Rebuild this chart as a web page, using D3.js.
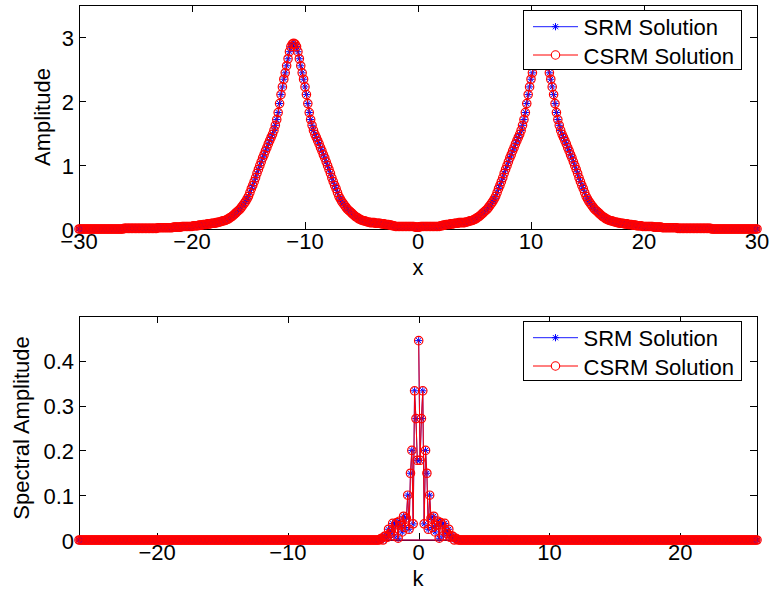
<!DOCTYPE html>
<html><head><meta charset="utf-8">
<script src="https://cdn.jsdelivr.net/npm/d3@7"></script>
<style>
body{margin:0;background:#fff}
svg{display:block}
text{font-family:"Liberation Sans",Arial,Helvetica,sans-serif;fill:#000}
</style>
</head><body>
<svg id="c" width="771" height="594"></svg>
<script>
// ---------------- data ----------------
const seriesNames = ["SRM Solution", "CSRM Solution"];
const xTicksTop = [-30, -20, -10, 0, 10, 20, 30];
const yTicksTop = [0, 1, 2, 3];
const kTicks = [-20, -10, 0, 10, 20];
const yTicksBottom = [0, 0.1, 0.2, 0.3, 0.4];
const yTickLabelsBottom = ["0", "0.1", "0.2", "0.3", "0.4"];
const xRange = [-30, 30];          // x grid spans this interval (uniform)
const kSpacing = 2 * Math.PI / 60; // spectral grid spacing

// amplitude |u(x)| on the uniform x grid from -30 to 30
const srmAmplitude = [
0,0,0,0,0,0,0,0,0,0,0,0,0,0,0,0,
0,0,0,0,0,0,0,0,0,0,0,0,0,0,0,0,
0.01,0.01,0.01,0.01,0.01,0.01,0.01,0.01,0.01,0.01,0.01,0.01,
0.01,0.01,0.01,0.01,0.01,0.01,0.01,0.01,0.01,0.01,0.01,0.01,
0.02,0.02,0.02,0.02,0.02,0.02,0.02,0.02,0.02,0.02,0.02,
0.03,0.03,0.03,0.03,0.03,0.03,
0.04,0.04,0.04,0.04,0.04,0.04,0.04,0.04,
0.05,0.05,0.05,0.05,
0.06,0.06,0.06,0.07,0.07,0.07,0.08,0.08,0.08,0.09,0.09,0.09,
0.10,0.10,0.11,0.11,0.12,0.13,0.13,
0.14,0.15,0.16,0.18,0.19,0.21,0.23,0.25,0.27,0.29,
0.31,0.34,0.37,0.40,0.43,0.47,0.51,0.57,0.63,0.68,
0.74,0.80,0.87,0.93,0.99,1.05,1.11,1.16,1.22,1.27,
1.33,1.38,1.43,1.48,1.54,1.62,1.71,1.82,1.96,2.10,
2.22,2.34,2.44,2.55,2.66,2.77,2.85,2.89,2.90,
2.89,2.85,2.77,2.66,2.55,2.44,2.34,2.22,2.10,1.96,
1.82,1.71,1.62,1.54,1.48,1.43,1.38,1.33,1.27,1.22,
1.16,1.11,1.05,0.99,0.93,0.87,0.80,0.74,0.68,0.63,
0.57,0.51,0.47,0.43,0.40,0.37,0.34,0.31,0.29,0.27,
0.25,0.23,0.21,0.19,0.18,0.16,0.15,0.14,0.13,0.13,
0.12,0.11,
0.11,0.10,0.10,0.10,0.10,0.09,0.09,0.09,0.09,0.08,0.08,0.08,0.07,0.07,0.07,0.06,0.06,0.05,0.05,
0.04,0.04,0.04,0.04,0.04,0.04,0.04,0.04,0.04,0.04,0.04,0.04,0.04,0.04,
0.03,0.03,0.03,0.03,
0.04,0.04,0.04,0.04,0.04,0.04,0.04,0.04,0.04,0.04,0.04,0.04,0.04,0.04,
0.05,0.05,0.06,0.06,0.07,0.07,0.07,0.08,0.08,0.08,0.09,0.09,0.09,
0.10,0.10,0.10,0.10,0.10,0.11,0.11,
0.12,0.13,0.13,0.14,0.15,0.16,0.18,0.19,0.21,0.23,
0.25,0.27,0.29,0.31,0.34,0.37,0.40,0.43,0.47,0.51,
0.57,0.63,0.68,0.74,0.80,0.87,0.93,0.99,1.05,1.11,
1.16,1.22,1.27,1.33,1.38,1.43,1.48,1.54,1.62,1.71,
1.82,1.96,2.10,2.22,2.34,2.44,2.55,2.66,2.77,2.85,
2.89,2.90,
2.89,2.85,2.77,2.66,2.55,2.44,2.34,2.22,2.10,1.96,
1.82,1.71,1.62,1.54,1.48,1.43,1.38,1.33,1.27,1.22,
1.16,1.11,1.05,0.99,0.93,0.87,0.80,0.74,0.68,0.63,
0.57,0.51,0.47,0.43,0.40,0.37,0.34,0.31,0.29,0.27,
0.25,0.23,0.21,0.19,0.18,0.16,0.15,0.14,0.13,0.13,
0.12,0.11,
0.11,0.10,0.10,0.09,0.09,0.09,0.08,0.08,0.08,0.07,0.07,0.07,0.06,0.06,0.06,
0.05,0.05,0.05,0.05,
0.04,0.04,0.04,0.04,0.04,0.04,0.04,0.04,
0.03,0.03,0.03,0.03,0.03,0.03,
0.02,0.02,0.02,0.02,0.02,0.02,0.02,0.02,0.02,0.02,0.02,
0.01,0.01,0.01,0.01,0.01,0.01,0.01,0.01,0.01,0.01,0.01,0.01,
0.01,0.01,0.01,0.01,0.01,0.01,0.01,0.01,0.01,0.01,0.01,0.01,
0,0,0,0,0,0,0,0,0,0,0,0,0,0,0,0,0,
0,0,0,0,0,0,0,0,0,0,0,0,0,0,0,0
];
// the two solutions coincide to plotting accuracy
const csrmAmplitude = srmAmplitude.slice();

// spectral amplitude in FFT order: non-negative wavenumbers n = 0,1,2,...
const srmSpectrumPos = [
0.445,0.178,0.271,0.333,0.036,0.200,0.149,0.024,0.100,0.049,
0.028,0.053,0.018,0.032,0.042,0.004,0.039,0.034,0.009,0.037,
0.020,0.014,0.024,0.006,0.009,0.008,0.000,0.004,0.002,0.000,
0,0,0,0,0,0,0,0,0,0,0,0,0,0,0,0,0,0,0,0,
0,0,0,0,0,0,0,0,0,0,0,0,0,0,0,0,0,0,0,0,
0,0,0,0,0,0,0,0,0,0,0,0,0,0,0,0,0,0,0,0,
0,0,0,0,0,0,0,0,0,0,0,0,0,0,0,0,0,0,0,0,
0,0,0,0,0,0,0,0,0,0,0,0,0,0,0,0,0,0,0,0,
0,0,0,0,0,0,0,0,0,0,0,0,0,0,0,0,0,0,0,0,
0,0,0,0,0,0,0,0,0,0,0,0,0,0,0,0,0,0,0,0,
0,0,0,0,0,0,0,0,0,0,0,0,0,0,0,0,0,0,0,0,
0,0,0,0,0,0,0,0,0,0,0,0,0,0,0,0,0,0,0,0,
0,0,0,0,0,0,0,0,0,0,0,0,0,0,0,0,0,0,0,0,
0,0,0,0,0,0,0,0,0,0,0,0,0,0,0,0,0,0
];
// then negative wavenumbers n = -248 ... -1
const srmSpectrumNeg = [
0,0,0,0,0,0,0,0,0,0,0,0,0,0,0,0,0,0,0,0,
0,0,0,0,0,0,0,0,0,0,0,0,0,0,0,0,0,0,0,0,
0,0,0,0,0,0,0,0,0,0,0,0,0,0,0,0,0,0,0,0,
0,0,0,0,0,0,0,0,0,0,0,0,0,0,0,0,0,0,0,0,
0,0,0,0,0,0,0,0,0,0,0,0,0,0,0,0,0,0,0,0,
0,0,0,0,0,0,0,0,0,0,0,0,0,0,0,0,0,0,0,0,
0,0,0,0,0,0,0,0,0,0,0,0,0,0,0,0,0,0,0,0,
0,0,0,0,0,0,0,0,0,0,0,0,0,0,0,0,0,0,0,0,
0,0,0,0,0,0,0,0,0,0,0,0,0,0,0,0,0,0,0,0,
0,0,0,0,0,0,0,0,0,0,0,0,0,0,0,0,0,0,0,0,
0,0,0,0,0,0,0,0,0,0,0,0,0,0,0,0,0,0,0,
0.000,0.002,0.004,0.000,0.008,0.009,0.006,0.024,0.014,0.020,
0.037,0.009,0.034,0.039,0.004,0.042,0.032,0.018,0.053,0.028,
0.049,0.100,0.024,0.149,0.200,0.036,0.333,0.271,0.178
];
const csrmSpectrumPos = srmSpectrumPos.slice();
const csrmSpectrumNeg = srmSpectrumNeg.slice();

// ---------------- build point tables ----------------
function xGrid(vals){
  const n = vals.length;
  return vals.map((v,i)=>({x: xRange[0] + (xRange[1]-xRange[0]) * i/(n-1), y: v}));
}
function kGrid(pos, neg){
  const a = pos.map((v,j)=>({x: j*kSpacing, y: v}));
  const b = neg.map((v,j)=>({x: -(neg.length - j)*kSpacing, y: v}));
  return a.concat(b);
}
const topSeries = [xGrid(srmAmplitude), xGrid(csrmAmplitude)];
const botSeries = [kGrid(srmSpectrumPos, srmSpectrumNeg), kGrid(csrmSpectrumPos, csrmSpectrumNeg)];

// ---------------- drawing ----------------
const svg = d3.select('#c');
const L = 79, R = 757, TICK = 7;
const FS = 22;

function starPath(cx, cy, s){
  const d = s*0.72;
  return `M${cx-s},${cy}H${cx+s}M${cx},${cy-s}V${cy+s}` +
         `M${cx-d},${cy-d}L${cx+d},${cy+d}M${cx-d},${cy+d}L${cx+d},${cy-d}`;
}

function panel(o){
  const g = svg.append('g');
  const x = d3.scaleLinear().domain(o.xDomain).range([L, R]);
  const y = d3.scaleLinear().domain(o.yDomain).range([o.bottom, o.top]);

  // axes box + ticks (drawn beneath data)
  const ax = g.append('g').attr('stroke','#000').attr('stroke-width',1).attr('fill','none')
    .attr('shape-rendering','crispEdges');
  ax.append('rect').attr('x',L).attr('y',o.top).attr('width',R-L).attr('height',o.bottom-o.top);
  o.xTicks.forEach(t=>{
    const px = Math.round(x(t));
    ax.append('line').attr('x1',px).attr('x2',px).attr('y1',o.bottom).attr('y2',o.bottom-TICK);
    ax.append('line').attr('x1',px).attr('x2',px).attr('y1',o.top).attr('y2',o.top+TICK);
  });
  o.yTicks.forEach(t=>{
    const py = Math.round(y(t));
    ax.append('line').attr('x1',L).attr('x2',L+TICK).attr('y1',py).attr('y2',py);
    ax.append('line').attr('x1',R).attr('x2',R-TICK).attr('y1',py).attr('y2',py);
  });
  // tick labels
  g.selectAll('.xt').data(o.xTicks).join('text')
    .attr('x',d=>x(d)).attr('y',o.bottom+20).attr('text-anchor','middle')
    .attr('font-size',FS).text(d=> d<0 ? '\u2212'+Math.abs(d) : String(d));
  g.selectAll('.yt').data(o.yTicks).join('text')
    .attr('x',L-5).attr('y',d=>y(d)+8.5).attr('text-anchor','end')
    .attr('font-size',FS).text((d,i)=>o.yLabels[i]);
  // axis titles
  g.append('text').attr('x',(L+R)/2).attr('y',o.bottom+45.5).attr('text-anchor','middle')
    .attr('font-size',FS).text(o.xTitle);
  g.append('text').attr('transform',`translate(${o.yTitleX},${(o.top+o.bottom)/2}) rotate(-90)`)
    .attr('text-anchor','middle').attr('font-size',FS).text(o.yTitle);

  const line = d3.line().x(d=>x(d.x)).y(d=>y(d.y));
  // SRM (blue, asterisks)
  g.append('path').datum(o.series[0]).attr('d',line)
    .attr('fill','none').attr('stroke','#0000ff').attr('stroke-width',0.9);
  g.append('path').attr('d', o.series[0].map(d=>starPath(x(d.x),y(d.y),3.6)).join(''))
    .attr('fill','none').attr('stroke','#0000ff').attr('stroke-width',1);
  // CSRM (red, circles)
  g.append('path').datum(o.series[1]).attr('d',line)
    .attr('fill','none').attr('stroke','#ff0000').attr('stroke-width',1);
  g.append('g').selectAll('circle').data(o.series[1]).join('circle')
    .attr('cx',d=>x(d.x)).attr('cy',d=>y(d.y)).attr('r',4.2)
    .attr('fill','none').attr('stroke','#ff0000').attr('stroke-width',1.2);

  // legend
  const lg = g.append('g');
  lg.append('rect').attr('x',523.5).attr('y',o.top+5.5).attr('width',218).attr('height',59)
    .attr('fill','#fff').attr('stroke','#000').attr('stroke-width',1);
  const rows = [o.top+21.7, o.top+50];
  lg.append('line').attr('x1',533).attr('x2',578).attr('y1',rows[0]).attr('y2',rows[0])
    .attr('stroke','#0000ff').attr('stroke-width',0.9);
  lg.append('path').attr('d',starPath(555.5,rows[0],3.6)).attr('fill','none')
    .attr('stroke','#0000ff').attr('stroke-width',1);
  lg.append('line').attr('x1',533).attr('x2',578).attr('y1',rows[1]).attr('y2',rows[1])
    .attr('stroke','#ff0000').attr('stroke-width',1);
  lg.append('circle').attr('cx',555.5).attr('cy',rows[1]).attr('r',4.2).attr('fill','#fff')
    .attr('stroke','#ff0000').attr('stroke-width',1.1);
  seriesNames.forEach((nm,i)=>{
    lg.append('text').attr('x',583.5).attr('y',rows[i]+8.6).attr('font-size',FS).text(nm);
  });
}

panel({
  top:5, bottom:229,
  xDomain: xRange, yDomain:[0,3.5],
  xTicks: xTicksTop, yTicks: yTicksTop, yLabels: yTicksTop.map(String),
  xTitle:'x', yTitle:'Amplitude', yTitleX: 50,
  series: topSeries
});
panel({
  top:316, bottom:540,
  xDomain: d3.extent(botSeries[0], d=>d.x), yDomain:[0,0.5],
  xTicks: kTicks, yTicks: yTicksBottom, yLabels: yTickLabelsBottom,
  xTitle:'k', yTitle:'Spectral Amplitude', yTitleX: 29,
  series: botSeries
});
</script>
</body></html>
